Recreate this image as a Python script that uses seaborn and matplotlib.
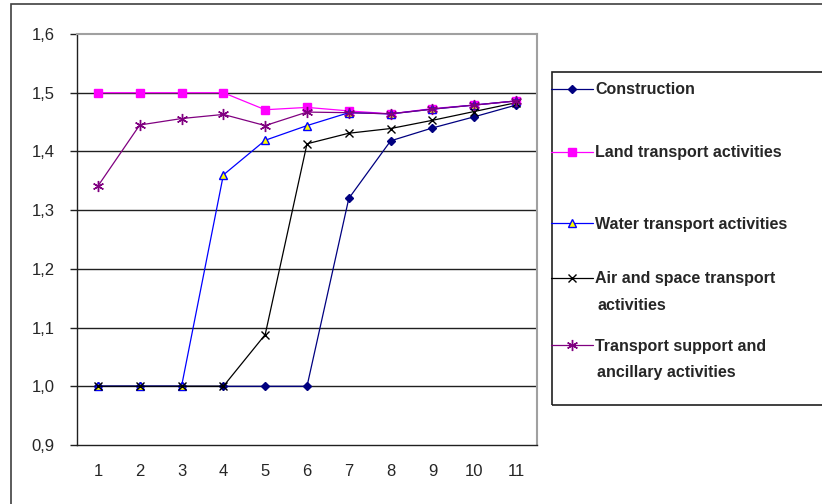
import numpy as np
import pandas as pd
import seaborn as sns
import matplotlib.pyplot as plt
from matplotlib.patches import Rectangle
from matplotlib.ticker import FixedLocator, FuncFormatter

periods = list(range(1, 12))
construction = [1.0, 1.0, 1.0, 1.0, 1.0, 1.0, 1.32, 1.418, 1.44, 1.459, 1.479]
land = [1.5, 1.5, 1.5, 1.5, 1.471, 1.475, 1.469, 1.464, 1.473, 1.479, 1.486]
water = [1.0, 1.0, 1.0, 1.36, 1.419, 1.444, 1.466, 1.464, 1.472, 1.479, 1.486]
air = [1.0, 1.0, 1.0, 1.0, 1.088, 1.413, 1.431, 1.439, 1.453, 1.468, 1.483]
support = [1.341, 1.445, 1.456, 1.463, 1.444, 1.467, 1.466, 1.464, 1.472, 1.479, 1.486]

labels = ["Construction", "Land transport activities", "Water transport activities",
          "Air and space transport\nactivities", "Transport support and\nancillary activities"]

sns.set_style("white")
plt.rcParams['font.family'] = ['Liberation Sans', 'DejaVu Sans']

fig = plt.figure(figsize=(8.22, 5.04), dpi=100)
ax = fig.add_axes([77 / 822, 59 / 504, 460 / 822, 411 / 504])

# series styles: color, marker, face, edge, size
styles = [
    ("#000080", "D", "#000080", "#000080", 4.5),
    ("#FF00FF", "s", "#FF00FF", "#FF00FF", 6),
    ("#0000FF", "^", "#FFFF00", "#0000FF", 5.5),
    ("#000000", "x", "#000000", "#000000", 6),
    ("#800080", (6, 2, 0), "#800080", "#800080", 8),
]
series = [construction, land, water, air, support]

# horizontal gridlines
for yv in np.arange(1.0, 1.55, 0.1):
    ax.axhline(yv, color="#202020", lw=1.0, zorder=0)

for vals, lab, (c, m, fc, ec, ms) in zip(series, labels, styles):
    df = pd.DataFrame({"period": periods, "value": vals})
    sns.lineplot(data=df, x="period", y="value", ax=ax, color=c, marker=m,
                 markerfacecolor=fc, markeredgecolor=ec, markeredgewidth=1.0,
                 markersize=ms, linewidth=0.9, label=lab, legend=False)

ax.set_xlim(0.5, 11.5)
ax.set_ylim(0.9, 1.6)
ax.set_xlabel("")
ax.set_ylabel("")

ax.xaxis.set_major_locator(FixedLocator(periods))
ax.xaxis.set_minor_locator(FixedLocator(np.arange(0.5, 12, 1.0)))
ax.tick_params(axis="x", which="major", length=0, pad=14, labelsize=12)
ax.tick_params(axis="x", which="minor", length=5, width=1, color="#202020", direction="out")
ax.yaxis.set_major_locator(FixedLocator(np.arange(0.9, 1.65, 0.1)))
ax.yaxis.set_major_formatter(FuncFormatter(lambda v, p: f"{v:.1f}".replace(".", ",")))
ax.tick_params(axis="y", length=5, width=1, color="#202020", direction="out", pad=11, labelsize=12)
ax.tick_params(left=True)

for side in ["left", "bottom"]:
    ax.spines[side].set_color("#202020")
    ax.spines[side].set_linewidth(1.0)
for side in ["top", "right"]:
    ax.spines[side].set_color("#A0A0A0")
    ax.spines[side].set_linewidth(1.5)

# outer chart frame and legend frame
fig.patches.append(Rectangle((11 / 822, -0.1), 1.2, (504 - 4) / 504 + 0.1, transform=fig.transFigure,
                             fill=False, edgecolor="#404040", lw=1.2))
fig.patches.append(Rectangle((552 / 822, (504 - 405) / 504), 0.5, 333 / 504, transform=fig.transFigure,
                             fill=False, edgecolor="#202020", lw=1.2))

# legend: one entry per series, placed like the original (handle beside first text line)
handles, labs = ax.get_legend_handles_labels()
entry_y = [90, 153, 224, 279, 346]
for h, lab, yc in zip(handles, labs, entry_y):
    first, _, rest = lab.partition("\n")
    fig.legend([h], [first], loc="center left", bbox_to_anchor=(551 / 822, 1 - yc / 504),
               frameon=False, prop={"weight": "bold", "size": 11.5}, handlelength=2.6,
               handletextpad=0.15, borderaxespad=0, borderpad=0)
    if rest:
        fig.text(597 / 822, 1 - (yc + 26) / 504, rest, fontsize=11.5, fontweight="bold",
                 va="center", ha="left")

fig.savefig("out.png", dpi=100)
